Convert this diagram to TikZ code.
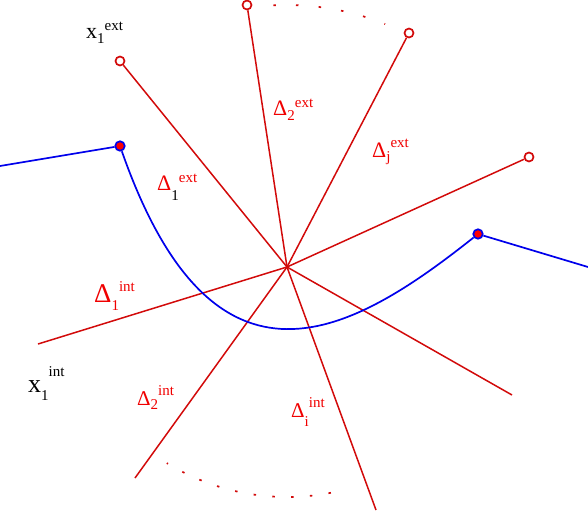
\documentclass[tikz,border=0pt]{standalone}
\usepackage{fontspec}
\setmainfont{Liberation Serif}
\usetikzlibrary{calc}
\definecolor{linered}{RGB}{210,10,10}
\definecolor{labred}{RGB}{240,0,0}
\definecolor{curveblue}{RGB}{0,0,235}
% label: size, main glyph, subscript, superscript, drop, rise
\newcommand{\lab}[6]{{\fontsize{#1}{#1}\selectfont #2}%
  \raisebox{-#5}{\fontsize{15}{15}\selectfont #3}%
  \raisebox{#6}{\fontsize{15}{15}\selectfont #4}}

\begin{document}
\begin{tikzpicture}[x=1pt,y=-1pt,
    ray/.style={linered,line width=1.5pt},
    curve/.style={curveblue,line width=1.7pt},
    tip/.style={circle,draw=linered,fill=white,line width=1.7pt,inner sep=0pt,minimum size=9pt},
    knot/.style={circle,draw=curveblue,fill=red,line width=1.7pt,inner sep=0pt,minimum size=9.5pt},
    lbl/.style={labred,anchor=base west,inner sep=0pt}]
    \useasboundingbox (0,0) rectangle (588,512);
    \coordinate (c) at (287,267);
    % outer ends
    \node[tip] (e1) at (120,61) {};
    \node[tip] (e2) at (247,5) {};
    \node[tip] (ej) at (409,33) {};
    \node[tip] (e4) at (529,157) {};
    \coordinate (i1) at (38,344);
    \coordinate (i2) at (135,478);
    \coordinate (ii) at (376,510);
    \coordinate (i4) at (512,395);
    \foreach \t in {e1,e2,ej,e4,i1,i2,ii,i4}
        \draw[ray] (c) -- (\t);
    % dotted arcs
    \draw[linered,line width=1.7pt,dash pattern=on 2.5pt off 20.2pt]
        ($(c)+(-93:262)$) arc[start angle=-93,end angle=-68,radius=262];
    \draw[linered,line width=1.7pt,dash pattern=on 2.5pt off 16.3pt]
        ($(c)+(79:230)$) arc[start angle=79,end angle=121.5,radius=230];
    % blue path
    \coordinate (bl) at (0,166);
    \coordinate (br) at (588,267);
    \node[knot] (k1) at (120,146) {};
    \node[knot] (k2) at (478,234) {};
    \draw[curve] (bl) -- (k1) .. controls (214,414) and (352,334) .. (k2) -- (br);
    % labels
    \node[lbl,black] (x1e) at (86,38) {\lab{22}{x}{1}{ext}{5pt}{8pt}};
    \node[lbl] (d1e) at (157,190) {\lab{22}{Δ}{\color{black}1}{ext}{10pt}{8pt}};
    \node[lbl] (d2e) at (273,115) {\lab{22}{Δ}{2}{ext}{5pt}{8pt}};
    \node[lbl] (dje) at (372,157) {\lab{22}{Δ}{j}{ext}{4pt}{10pt}};
    \node[lbl] (d1i) at (94,302) {\lab{27}{Δ}{1}{int}{8pt}{11pt}};
    \node[lbl,black] (x1i) at (28,392) {\lab{26}{x}{1}{int}{8pt}{16pt}};
    \node[lbl] (d2i) at (137,405) {\lab{21}{Δ}{2}{int}{4pt}{10pt}};
    \node[lbl] (dii) at (291,417) {\lab{21}{Δ}{i}{int}{9pt}{10pt}};
\end{tikzpicture}
\end{document}
